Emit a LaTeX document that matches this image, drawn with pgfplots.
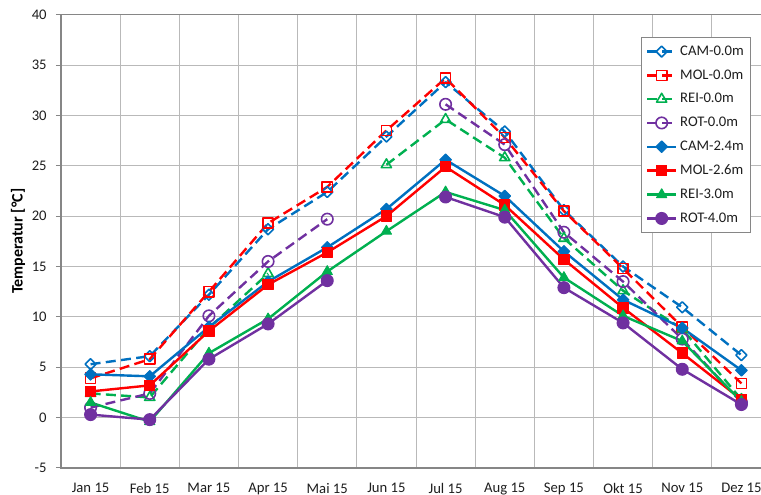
\documentclass[border=0pt]{standalone}
\usepackage{pgfplots}
\pgfplotsset{compat=1.18}
\usepackage{fontspec}
\setmainfont{Carlito}

\definecolor{cblue}{RGB}{0,112,192}
\definecolor{cred}{RGB}{255,0,0}
\definecolor{cgreen}{RGB}{0,176,80}
\definecolor{cpurple}{RGB}{112,48,160}
\definecolor{axgray}{RGB}{134,134,134}
\definecolor{grgray}{RGB}{185,185,185}
\definecolor{txt}{RGB}{30,30,30}

\pgfplotsset{
  dashed ser/.style={draw=#1, line width=1.8pt, line join=round, dash pattern=on 7.5pt off 4pt},
  solid ser/.style={draw=#1, line width=1.8pt, line join=round},
}

\begin{document}
\begin{tikzpicture}
\begin{axis}[
  scale only axis, width=532.5pt, height=340pt,
  xmin=-0.5, xmax=11.5, ymin=-5, ymax=40,
  xtick={0,...,11},
  xticklabels={Jan 15,Feb 15,Mar 15,Apr 15,Mai 15,Jun 15,Jul 15,Aug 15,Sep 15,Okt 15,Nov 15,Dez 15},
  minor xtick={-0.5,0.5,...,11.5},
  ytick={-5,0,...,40},
  xminorgrids, ymajorgrids, xmajorgrids=false,
  grid style={grgray, line width=0.75pt},
  minor grid style={grgray, line width=0.75pt},
  axis line style={axgray, line width=0.9pt},
  tick align=outside, major tick length=3.75pt, minor tick length=0pt,
  xtick style={draw=none},
  ytick style={axgray, line width=0.75pt},
  tick label style={font=\fontsize{11}{13}\selectfont, text=txt},
  /pgf/number format/assume math mode=true,
  xticklabel style={yshift=-4pt},
  yticklabel style={xshift=-3.5pt},
  ylabel={Temperatur [°C]},
  ylabel style={at={(axis description cs:-0.0606,0.5)}, anchor=center, font=\bfseries\fontsize{12}{14}\selectfont, text=black},
  unbounded coords=jump,
  legend style={at={(1,1)}, anchor=north east, xshift=-15pt, yshift=-17pt,
    draw=axgray, line width=0.75pt, font=\fontsize{11}{13}\selectfont, text=txt,
    cells={anchor=west}, row sep=5.2pt, inner xsep=3pt, inner ysep=4pt},
  legend image code/.code={\draw[mark repeat=2,mark phase=2] plot coordinates {(0pt,0pt) (11pt,0pt) (22pt,0pt)};},
]
% 0.0m, gestrichelt
\addplot[dashed ser=cblue, mark=square, mark size=2.9pt, mark options={solid, rotate=45, fill=white, draw=cblue, line width=1.2pt}]
  coordinates {(0,5.3)(1,6.1)(2,12.2)(3,18.7)(4,22.4)(5,27.9)(6,33.3)(7,28.4)(8,20.6)(9,15.0)(10,10.95)(11,6.2)};
\addplot[dashed ser=cred, mark=square, mark size=3.8pt, mark options={solid, fill=white, draw=cred, line width=1.2pt}]
  coordinates {(0,3.9)(1,5.8)(2,12.5)(3,19.3)(4,22.9)(5,28.5)(6,33.7)(7,27.8)(8,20.5)(9,14.8)(10,9.0)(11,3.4)};
\addplot[dashed ser=cgreen, mark=triangle, mark size=4.4pt, mark options={solid, fill=white, draw=cgreen, line width=1.2pt}]
  coordinates {(0,2.4)(1,2.0)(2,8.9)(3,14.3)(4,nan)(5,25.1)(6,29.6)(7,25.8)(8,17.8)(9,12.6)(10,8.8)(11,1.8)};
\addplot[dashed ser=cpurple, mark=o, mark size=4.3pt, mark options={solid, fill=white, draw=cpurple, line width=1.2pt}]
  coordinates {(0,1.0)(1,2.4)(2,10.1)(3,15.5)(4,19.7)(5,nan)(6,31.1)(7,27.1)(8,18.4)(9,13.5)(10,7.8)(11,1.5)};
% Tiefe, durchgezogen
\addplot[solid ser=cblue, mark=square*, mark size=3.1pt, mark options={rotate=45, fill=cblue, draw=cblue, line width=0.75pt}]
  coordinates {(0,4.3)(1,4.1)(2,9.0)(3,13.5)(4,16.9)(5,20.7)(6,25.6)(7,22.0)(8,16.5)(9,11.7)(10,8.9)(11,4.7)};
\addplot[solid ser=cred, mark=square*, mark size=3.9pt, mark options={fill=cred, draw=cred, line width=0.75pt}]
  coordinates {(0,2.6)(1,3.2)(2,8.6)(3,13.2)(4,16.4)(5,20.0)(6,24.9)(7,21.1)(8,15.7)(9,10.9)(10,6.4)(11,1.8)};
\addplot[solid ser=cgreen, mark=triangle*, mark size=4.4pt, mark options={fill=cgreen, draw=cgreen, line width=0.75pt}]
  coordinates {(0,1.5)(1,-0.4)(2,6.4)(3,9.8)(4,14.5)(5,18.5)(6,22.4)(7,20.6)(8,13.9)(9,10.1)(10,7.6)(11,1.6)};
\addplot[solid ser=cpurple, mark=*, mark size=4.5pt, mark options={fill=cpurple, draw=cpurple, line width=0.75pt}]
  coordinates {(0,0.3)(1,-0.2)(2,5.8)(3,9.3)(4,13.6)(5,nan)(6,21.9)(7,19.9)(8,12.9)(9,9.4)(10,4.8)(11,1.3)};
\legend{CAM-0.0m,MOL-0.0m,REI-0.0m,ROT-0.0m,CAM-2.4m,MOL-2.6m,REI-3.0m,ROT-4.0m}
\end{axis}
\pgfresetboundingbox
\path (-45.75pt,-20.25pt) rectangle (525pt,351pt);
\end{tikzpicture}
\end{document}
